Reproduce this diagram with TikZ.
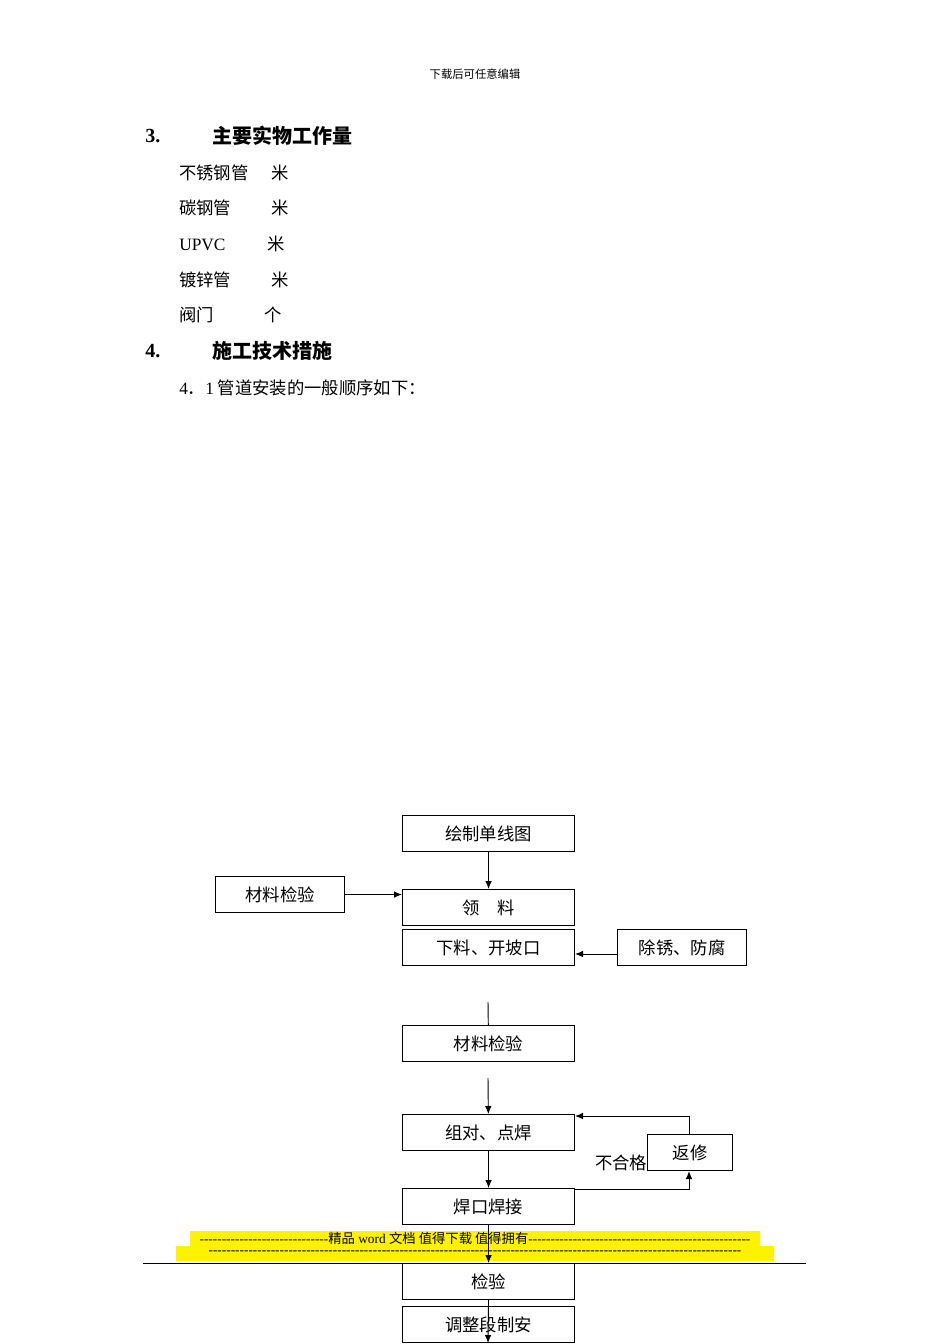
\documentclass[tikz,border=0pt]{standalone}
\usepackage{fontspec}
\usetikzlibrary{arrows.meta}
\setmainfont{Liberation Serif}
\newfontfamily\cjk{Noto Sans CJK SC}
\newcommand\mydashes[1]{\foreach \i in {1,...,#1}{-\kern0pt}}
\begin{document}
\begin{tikzpicture}[x=0.75pt,y=-0.75pt,
  bx/.style={draw,fill=white,line width=0.8pt,minimum width=129pt,minimum height=27pt,inner sep=0pt,anchor=north west,font=\cjk\fontsize{13}{15}\selectfont},
  ar/.style={-{Latex[length=6pt,width=5pt]},line width=0.7pt},
  ln/.style={line width=0.7pt},
  tx/.style={anchor=west,inner sep=0pt,font=\cjk\fontsize{13}{15}\selectfont}]
\useasboundingbox (0,0) rectangle (950,1344);
\node[font=\cjk\fontsize{8.5}{10}\selectfont] (hd) at (475,74) {下载后可任意编辑};
\node[anchor=west,inner sep=0pt,font=\bfseries\fontsize{15}{17}\selectfont] (h3) at (145,136) {3.};
\node[anchor=west,inner sep=0pt,font=\cjk\bfseries\fontsize{15}{17}\selectfont] (h3t) at (212,136) {主要实物工作量};
\node[tx] (i1) at (179,173) {不锈钢管\hspace{1.3em}米};
\node[tx] (i2) at (179,208) {碳钢管\hspace{2.3em}米};
\node[tx] (i3) at (179,244) {\rmfamily UPVC\hspace{2.4em}\cjk 米};
\node[tx] (i4) at (179,280) {镀锌管\hspace{2.3em}米};
\node[tx] (i5) at (179,315) {阀门\hspace{2.9em}个};
\node[anchor=west,inner sep=0pt,font=\bfseries\fontsize{15}{17}\selectfont] (h4) at (145,351) {4.};
\node[anchor=west,inner sep=0pt,font=\cjk\bfseries\fontsize{15}{17}\selectfont] (h4t) at (212,351) {施工技术措施};
\node[tx] (i6) at (179,388) {{\rmfamily 4}．{\rmfamily 1} 管道安装的一般顺序如下：};
% yellow bands
\fill[yellow] (190,1231) rectangle (760,1246);
\fill[yellow] (176,1246) rectangle (774,1261);
\node[font=\fontsize{10}{11}\selectfont,inner sep=0pt] (ft1) at (475,1238) {\mydashes{29}{\cjk 精品} word {\cjk 文档 值得下载 值得拥有}\mydashes{50}};
\node[font=\fontsize{10}{11}\selectfont,inner sep=0pt] (ft2) at (475,1253) {\mydashes{120}};
\draw[line width=0.7pt] (143,1263) -- (806,1263);
\node[tx,anchor=west] (bhg) at (595,1163) {不合格};
\node[bx] (a) at (402,815) {绘制单线图};
\node[bx,minimum width=97pt] (m1) at (215,876) {材料检验};
\node[bx] (b) at (402,889) {领\quad 料};
\node[bx] (c) at (402,929) {下料、开坡口};
\node[bx,minimum width=97pt] (r) at (617,929) {除锈、防腐};
\node[bx] (d) at (402,1025) {材料检验};
\node[bx] (e) at (402,1114) {组对、点焊};
\node[bx,minimum width=64pt] (f) at (647,1134) {返修};
\node[bx] (g) at (402,1188) {焊口焊接};
\node[bx] (h) at (402,1263) {检验};
\node[bx] (k) at (402,1306) {调整段制安};
\coordinate (p1) at (488,1002);
\coordinate (p2) at (488,1078);
\coordinate (p3) at (488,1343);
\coordinate (q1) at (689,1189);
\coordinate (q2) at (689,1116);
\draw[ar] (a) -- (b);
\draw[ar] (m1.east) -- (b.west|-m1.east);
\draw[ar] (r.west|-0,954) -- (c.east|-0,954);
\draw[ln] (p1) -- (d);
\draw[ar] (p2) -- (e);
\draw[ar] (e) -- (g);
\draw[ar] (g.east|-q1) -- (q1) -- (q1|-f.south);
\draw[ar] (q1|-f.north) -- (q2) -- (e.east|-q2);
\draw[ar] (g) -- (h);
\draw[ar] (h.south) -- (p3);
\end{tikzpicture}
\end{document}
